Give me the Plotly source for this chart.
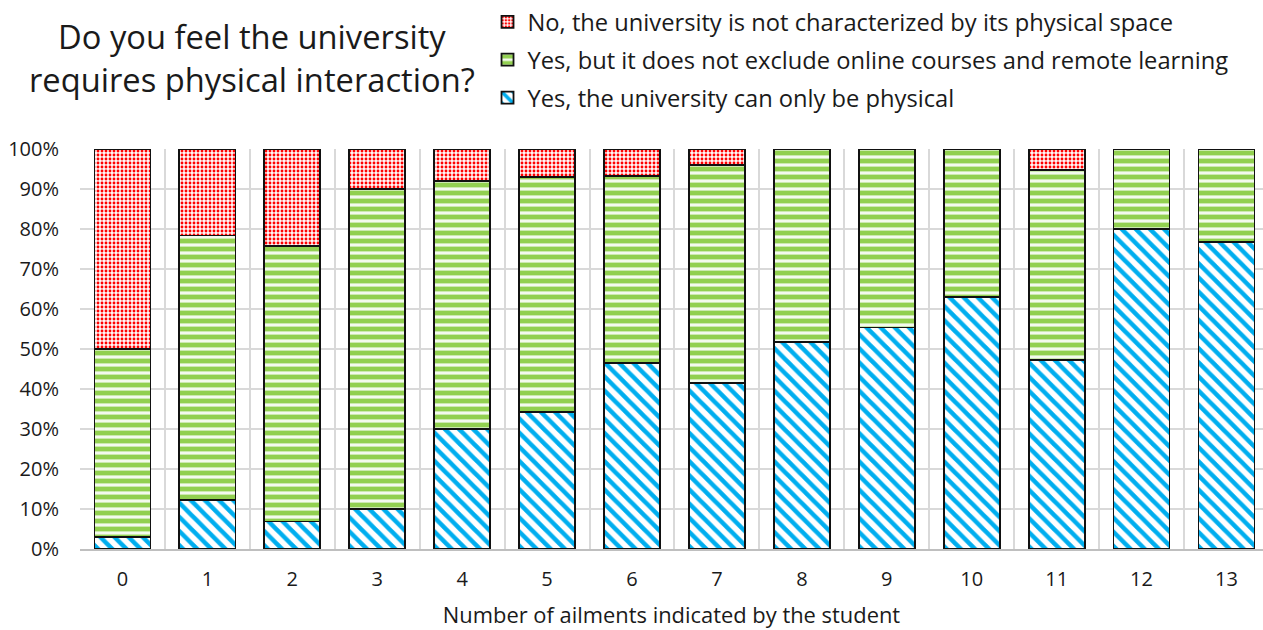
import plotly.graph_objects as go

# Number of ailments reported (category axis)
ailments = ["0", "1", "2", "3", "4", "5", "6", "7", "8", "9", "10", "11", "12", "13"]

# Share of answers per group, in percent
only_physical = [3.0, 12.2, 6.9, 10.0, 30.0, 34.3, 46.6, 41.6, 51.8, 55.4, 63.1, 47.3, 80.0, 76.7]
not_exclude_online = [47.0, 66.2, 68.8, 80.0, 62.0, 58.8, 46.7, 54.4, 48.2, 44.6, 36.9, 47.5, 20.0, 23.3]
not_physical_space = [50.0, 21.6, 24.3, 10.0, 8.0, 6.9, 6.7, 4.0, 0.0, 0.0, 0.0, 5.2, 0.0, 0.0]

series_names = [
    "Yes, the university can only be physical",
    "Yes, but it does not exclude online courses and remote learning",
    "No, the university is not characterized by its physical space",
]

FONT = "Open Sans"
outline = dict(color="#111111", width=1.8)

fig = go.Figure()
fig.add_trace(go.Bar(
    x=ailments, y=only_physical, name=series_names[0],
    legendgroup="g3", legendrank=3,
    marker=dict(
        color="white", line=outline,
        pattern=dict(shape="\\", fgcolor="#00aeef", bgcolor="white", fgopacity=1,
                     size=10, solidity=0.45, fillmode="overlay"),
    ),
))
fig.add_trace(go.Bar(
    x=ailments, y=not_exclude_online, name=series_names[1],
    legendgroup="g2", legendrank=2,
    marker=dict(
        color="white", line=outline,
        pattern=dict(shape="-", fgcolor="#92d050", bgcolor="#f4faee", fgopacity=1,
                     size=8, solidity=0.6, fillmode="overlay"),
    ),
))
fig.add_trace(go.Bar(
    x=ailments, y=not_physical_space, name=series_names[2],
    legendgroup="g1", legendrank=1,
    marker=dict(
        color="white", line=outline,
        pattern=dict(shape=".", fgcolor="#ff0000", bgcolor="#fff6f6", fgopacity=1,
                     size=4, solidity=0.4, fillmode="overlay"),
    ),
))

fig.update_layout(
    barmode="stack",
    bargap=0.34,
    width=1263, height=630,
    margin=dict(l=80, r=0, t=149, b=81, autoexpand=False),
    paper_bgcolor="white", plot_bgcolor="white",
    font=dict(family=FONT, color="#1a1a1a", size=20),
    showlegend=True,
    legend=dict(
        traceorder="grouped",
        xref="container", yref="container",
        x=0.386, y=1.0, xanchor="left", yanchor="top",
        font=dict(family=FONT, size=23.7, color="#1a1a1a"),
        itemwidth=30, tracegroupgap=4,
        bgcolor="rgba(0,0,0,0)",
    ),
    annotations=[dict(
        text="Do you feel the university<br>requires physical interaction?",
        xref="paper", yref="paper", x=(252 - 80) / 1183, y=(549 - 57.5) / 400,
        xanchor="center", yanchor="middle",
        showarrow=False, align="center",
        font=dict(family=FONT, size=32.7, color="#1a1a1a"),
    )],
)

fig.update_xaxes(
    type="category",
    range=[-0.5, 13.43],
    tickson="boundaries",
    showgrid=True, gridcolor="#d9d9d9", gridwidth=1.5,
    showline=True, linecolor="#bfbfbf", linewidth=1.5,
    ticks="", ticklabelstandoff=11,
    tickfont=dict(family=FONT, size=20),
    title=dict(text="Number of ailments indicated by the student",
               font=dict(family=FONT, size=21.9), standoff=17),
)
fig.update_yaxes(
    range=[0, 100],
    tickmode="array",
    tickvals=[0, 10, 20, 30, 40, 50, 60, 70, 80, 90, 100],
    ticktext=["0%", "10%", "20%", "30%", "40%", "50%", "60%", "70%", "80%", "90%", "100%"],
    showgrid=True, gridcolor="#d9d9d9", gridwidth=1.5,
    zeroline=False, showline=False, ticks="", ticklabelstandoff=20,
    tickfont=dict(family=FONT, size=20),
)

fig.write_html("out.html")
